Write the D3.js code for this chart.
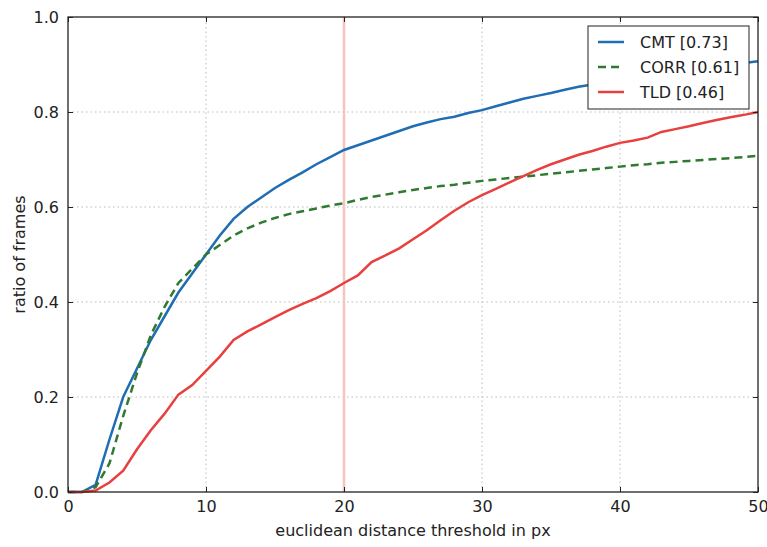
<!DOCTYPE html>
<html>
<head>
<meta charset="utf-8">
<script src="https://cdn.jsdelivr.net/npm/d3@7"></script>
<style>
    body { margin: 0; background: #fff; }
    text { font-family: "DejaVu Sans", sans-serif; fill: #222; }
    .grid line { stroke: #bbb; stroke-dasharray: 1.5,3; }
</style>
</head>
<body>
<div id="chart"></div>
<script>
var thresholds = d3.range(0, 51);
var cmtVals = [0, 0, 0.015, 0.11, 0.2, 0.26, 0.32, 0.37, 0.42, 0.46, 0.5,
    0.54, 0.575, 0.6, 0.62, 0.64, 0.657, 0.673, 0.69, 0.705, 0.72,
    0.73, 0.74, 0.75, 0.76, 0.77, 0.778, 0.785, 0.79, 0.798, 0.804,
    0.812, 0.82, 0.828, 0.834, 0.84, 0.847, 0.853, 0.858, 0.862, 0.866,
    0.87, 0.874, 0.878, 0.882, 0.886, 0.89, 0.894, 0.898, 0.903, 0.907];
var corrVals = [0, 0, 0.01, 0.06, 0.16, 0.25, 0.33, 0.39, 0.44, 0.47, 0.5,
    0.52, 0.54, 0.555, 0.567, 0.577, 0.585, 0.591, 0.597, 0.603, 0.608,
    0.615, 0.621, 0.626, 0.631, 0.636, 0.64, 0.644, 0.647, 0.651, 0.655,
    0.658, 0.661, 0.664, 0.667, 0.67, 0.673, 0.676, 0.679, 0.682, 0.685,
    0.688, 0.69, 0.693, 0.695, 0.697, 0.699, 0.701, 0.703, 0.705, 0.708];
var tldVals = [0, 0, 0.003, 0.02, 0.045, 0.09, 0.13, 0.165, 0.205, 0.225, 0.255,
    0.285, 0.32, 0.338, 0.353, 0.368, 0.383, 0.396, 0.408, 0.423, 0.44,
    0.456, 0.484, 0.498, 0.513, 0.532, 0.551, 0.572, 0.592, 0.61, 0.625,
    0.638, 0.652, 0.665, 0.678, 0.69, 0.7, 0.71, 0.718, 0.727, 0.735,
    0.74, 0.746, 0.758, 0.764, 0.77, 0.777, 0.783, 0.789, 0.794, 0.8];
var seriesNames = ['CMT [0.73]', 'CORR [0.61]', 'TLD [0.46]'];
var seriesColors = ['#1f6db3', '#2f7a2e', '#e8403e'];
var xTicks = [0, 10, 20, 30, 40, 50];
var yTicks = [0, 0.2, 0.4, 0.6, 0.8, 1.0];
var marker = 20;

var W = 767, H = 547;
var m = {left: 68, right: 9, top: 17, bottom: 55};
var svg = d3.select('#chart').append('svg')
    .attr('width', W).attr('height', H);

var x = d3.scaleLinear().domain([0, 50]).range([m.left, W - m.right]);
var y = d3.scaleLinear().domain([0, 1]).range([H - m.bottom, m.top]);

// grid
var grid = svg.append('g').attr('class', 'grid');
grid.selectAll('.gx').data(xTicks.slice(1, -1)).enter().append('line')
    .attr('x1', x).attr('x2', x).attr('y1', y(0)).attr('y2', y(1));
grid.selectAll('.gy').data(yTicks.slice(1, -1)).enter().append('line')
    .attr('y1', y).attr('y2', y).attr('x1', x(0)).attr('x2', x(50));

// threshold marker
svg.append('line')
    .attr('x1', x(marker)).attr('x2', x(marker))
    .attr('y1', y(0)).attr('y2', y(1))
    .attr('stroke', '#f5c4bd').attr('stroke-width', 2.5);

var data = [cmtVals, corrVals, tldVals];
var line = d3.line()
    .x(function (d, i) { return x(thresholds[i]); })
    .y(function (d) { return y(d); });

svg.selectAll('.series').data(data).enter().append('path')
    .attr('class', 'series')
    .attr('d', line)
    .attr('fill', 'none')
    .attr('stroke', function (d, i) { return seriesColors[i]; })
    .attr('stroke-width', 2.5)
    .attr('stroke-dasharray', function (d, i) { return i == 1 ? '8,5' : null; });

// frame and inward ticks
svg.append('rect')
    .attr('x', x(0)).attr('y', y(1))
    .attr('width', x(50) - x(0)).attr('height', y(0) - y(1))
    .attr('fill', 'none').attr('stroke', '#222').attr('stroke-width', 1.3);

svg.append('g').attr('transform', 'translate(0,' + y(0) + ')')
    .call(d3.axisBottom(x).tickValues(xTicks).tickSizeInner(-5).tickSizeOuter(0).tickPadding(9));
svg.append('g').attr('transform', 'translate(' + x(0) + ',0)')
    .call(d3.axisLeft(y).tickValues(yTicks).tickSizeInner(-5).tickSizeOuter(0).tickPadding(9)
        .tickFormat(d3.format('.1f')));
svg.append('g').attr('transform', 'translate(0,' + y(1) + ')')
    .call(d3.axisTop(x).tickValues(xTicks).tickSizeInner(-5).tickSizeOuter(0).tickFormat(''));
svg.append('g').attr('transform', 'translate(' + x(50) + ',0)')
    .call(d3.axisRight(y).tickValues(yTicks).tickSizeInner(-5).tickSizeOuter(0).tickFormat(''));
svg.selectAll('.domain').remove();
svg.selectAll('.tick line').attr('stroke', '#222');
svg.selectAll('.tick text').attr('font-size', 16).attr('fill', '#222')
    .style('font-family', '"DejaVu Sans", sans-serif');

svg.append('text')
    .attr('x', (x(0) + x(50)) / 2).attr('y', H - 11)
    .attr('text-anchor', 'middle').attr('font-size', 16)
    .text('euclidean distance threshold in px');
svg.append('text')
    .attr('transform', 'translate(25,' + (y(0) + y(1)) / 2 + ') rotate(-90)')
    .attr('text-anchor', 'middle').attr('font-size', 16)
    .text('ratio of frames');

// legend
var lg = svg.append('g').attr('transform', 'translate(588,26)');
lg.append('rect').attr('width', 161).attr('height', 83)
    .attr('fill', '#fff').attr('stroke', '#222').attr('stroke-width', 1);
seriesNames.forEach(function (name, i) {
    var yy = 16 + i * 25;
    lg.append('line')
        .attr('x1', 10).attr('x2', 36).attr('y1', yy).attr('y2', yy)
        .attr('stroke', seriesColors[i]).attr('stroke-width', 2.5)
        .attr('stroke-dasharray', i == 1 ? '8,5' : null);
    lg.append('text').attr('x', 52).attr('y', yy + 6)
        .attr('font-size', 16).text(name);
});
</script>
</body>
</html>
